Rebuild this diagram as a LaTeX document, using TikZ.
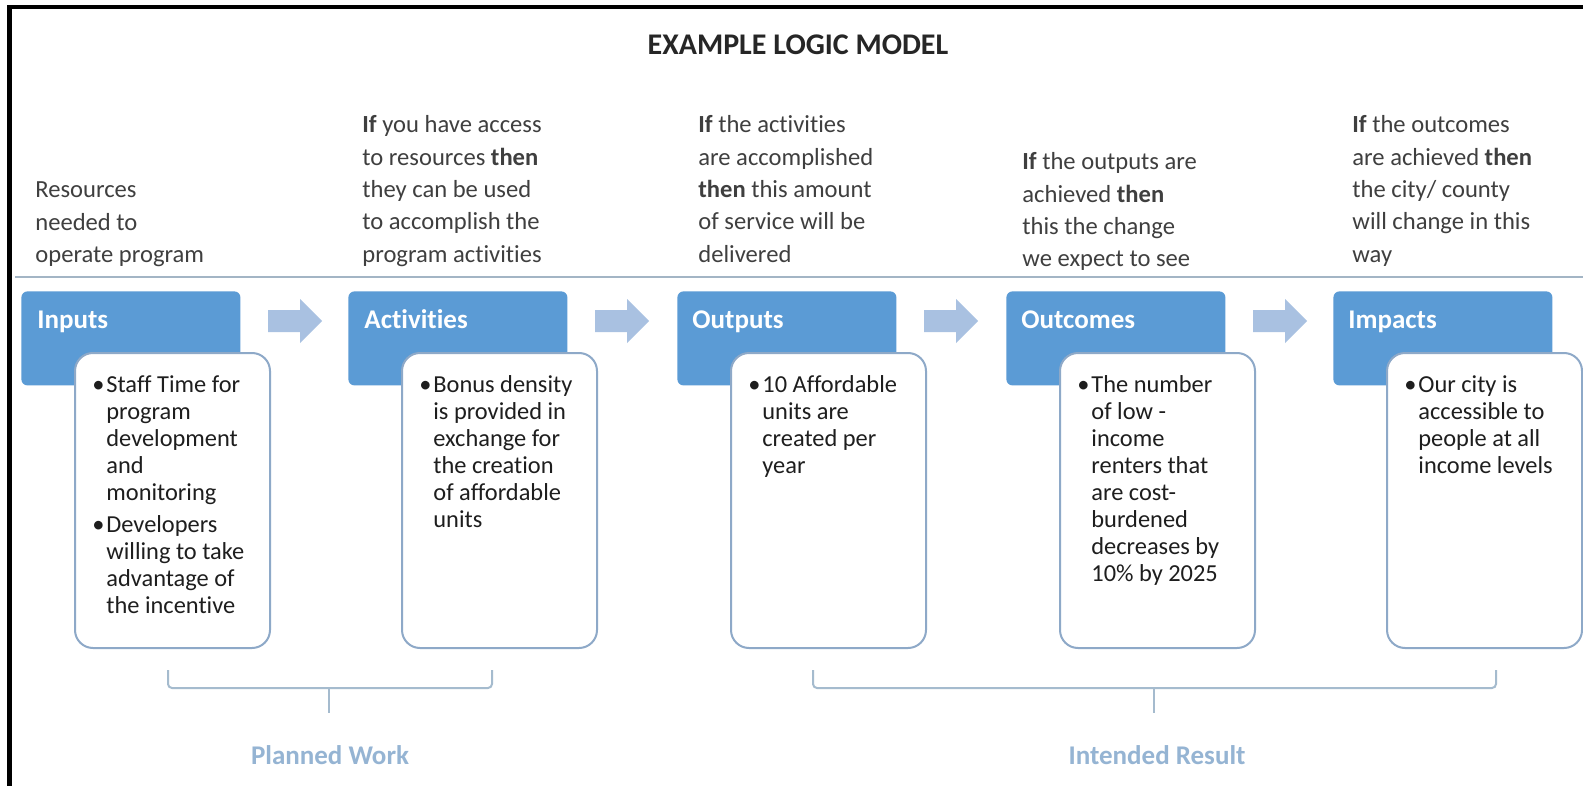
\documentclass[tikz,border=0pt]{standalone}
\usepackage{fontspec}
\setmainfont{Carlito}[Ligatures=NoCommon]
\definecolor{hdrblue}{HTML}{5B9BD5}
\definecolor{boxline}{HTML}{8EA9C8}
\definecolor{arrowc}{HTML}{A9C1E1}
\definecolor{sepc}{HTML}{A3B5C5}
\definecolor{brkc}{HTML}{A5BBCE}
\definecolor{toptextc}{HTML}{3F3F3F}
\definecolor{ctextc}{HTML}{1E1E1E}
\definecolor{blabelc}{HTML}{95B4D3}
\definecolor{titlec}{HTML}{262626}
\newcommand\bitem[1]{\par\begingroup\let\\\newline\hangindent=7pt\hangafter=1\noindent\makebox[7pt][l]{\textbullet}#1\par\endgroup}
\begin{document}
\begin{tikzpicture}[x=0.5pt,y=-0.5pt,
  hdr/.style={fill=hdrblue, rounded corners=3pt, minimum width=109.5pt, minimum height=47pt, anchor=north west, inner sep=0pt},
  cbox/.style={draw=boxline, line width=1pt, fill=white, rounded corners=9pt, minimum width=97.5pt, minimum height=147.5pt, anchor=north west, inner sep=0pt},
  hlabel/.style={anchor=base west, text=white, font=\fontsize{13.5pt}{16pt}\selectfont\bfseries, inner sep=0pt},
  toptext/.style={anchor=base west, inner sep=0pt, text=toptextc, font=\fontsize{12.3pt}{16.15pt}\selectfont},
  ctext/.style={anchor=base west, inner sep=0pt, text=ctextc, font=\fontsize{12.2pt}{13.5pt}\selectfont},
  flow/.style={fill=arrowc},
  brk/.style={draw=brkc, line width=1pt, rounded corners=2pt},
  blabel/.style={anchor=base, text=blabelc, font=\fontsize{13.5pt}{16pt}\selectfont\bfseries, inner sep=0pt}
]
\useasboundingbox[fill=white] (0,0) rectangle (1583,786);
% frame
\draw[black, line width=2.25pt] (9.5,786) -- (9.5,7) -- (1583,7);
% title
\node[anchor=base, font=\fontsize{15pt}{18pt}\selectfont\bfseries, text=titlec, inner sep=0pt] (title) at (798,55) {EXAMPLE LOGIC MODEL};
% top descriptions
\node[toptext] (dIn) at (35,198) {\parbox[t]{120pt}{\raggedright Resources\\needed to\\operate program}};
\node[toptext] (dAct) at (362,133) {\parbox[t]{120pt}{\raggedright\textbf{If} you have access\\to resources \textbf{then}\\they can be used\\to accomplish the\\program activities}};
\node[toptext] (dOut) at (698,133) {\parbox[t]{120pt}{\raggedright\textbf{If} the activities\\are accomplished\\\textbf{then} this amount\\of service will be\\delivered}};
\node[toptext] (dOc) at (1022,170) {\parbox[t]{120pt}{\raggedright\textbf{If} the outputs are\\achieved \textbf{then}\\this the change\\we expect to see}};
\node[toptext] (dImp) at (1352,133) {\parbox[t]{120pt}{\raggedright\textbf{If} the outcomes\\are achieved \textbf{then}\\the city/ county\\will change in this\\way}};
% separator
\coordinate (sepL) at (15,277);
\coordinate (sepR) at (1583,277);
\draw[sepc, line width=1pt] (sepL) -- (sepR);
% headers
\node[hdr] (hIn) at (21,291) {};
\node[hdr] (hAct) at (348,291) {};
\node[hdr] (hOut) at (677,291) {};
\node[hdr] (hOc) at (1006,291) {};
\node[hdr] (hImp) at (1333,291) {};
\node[hlabel] (tIn) at (37,328) {Inputs};
\node[hlabel] (tAct) at (364,328) {Activities};
\node[hlabel] (tOut) at (692,328) {Outputs};
\node[hlabel] (tOc) at (1021,328) {Outcomes};
\node[hlabel] (tImp) at (1348,328) {Impacts};
% flow arrows
\foreach \x in {268,595,924,1253}{
  \fill[flow] (\x,310) -- (\x+32,310) -- (\x+32,299) -- (\x+54,321) -- (\x+32,343) -- (\x+32,332) -- (\x,332) -- cycle;
}
% content boxes
\node[cbox] (cIn) at (74,352) {};
\node[cbox] (cAct) at (401,352) {};
\node[cbox] (cOut) at (730,352) {};
\node[cbox] (cOc) at (1059,352) {};
\node[cbox] (cImp) at (1386,352) {};
% content texts
\node[ctext] (xIn) at (92,392) {\parbox[t]{90pt}{\raggedright\bitem{Staff Time for\\program\\development\\and\\monitoring}\vspace{2.5pt}\bitem{Developers\\willing to take\\advantage of\\the incentive}}};
\node[ctext] (xAct) at (419,392) {\parbox[t]{90pt}{\raggedright\bitem{Bonus density\\is provided in\\exchange for\\the creation\\of affordable\\units}}};
\node[ctext] (xOut) at (748,392) {\parbox[t]{90pt}{\raggedright\bitem{10 Affordable\\units are\\created per\\year}}};
\node[ctext] (xOc) at (1077,392) {\parbox[t]{90pt}{\raggedright\bitem{The number\\of low -\\income\\renters that\\are cost-\\burdened\\decreases by\\10\% by 2025}}};
\node[ctext] (xImp) at (1404,392) {\parbox[t]{90pt}{\raggedright\bitem{Our city is\\accessible to\\people at all\\income levels}}};
% brackets
\coordinate (pwA) at (168,670);
\coordinate (pwB) at (492,670);
\coordinate (pwM) at (329,688);
\coordinate (pwS) at (329,713);
\draw[brk] (pwA) -- (168,688) -- (492,688) -- (pwB);
\draw[brk] (pwM) -- (pwS);
\node[blabel] (pw) at (330,764) {Planned Work};
\coordinate (irA) at (813,670);
\coordinate (irB) at (1496,670);
\coordinate (irM) at (1154,688);
\coordinate (irS) at (1154,713);
\draw[brk] (irA) -- (813,688) -- (1496,688) -- (irB);
\draw[brk] (irM) -- (irS);
\node[blabel] (ir) at (1157,764) {Intended Result};
\end{tikzpicture}
\end{document}
